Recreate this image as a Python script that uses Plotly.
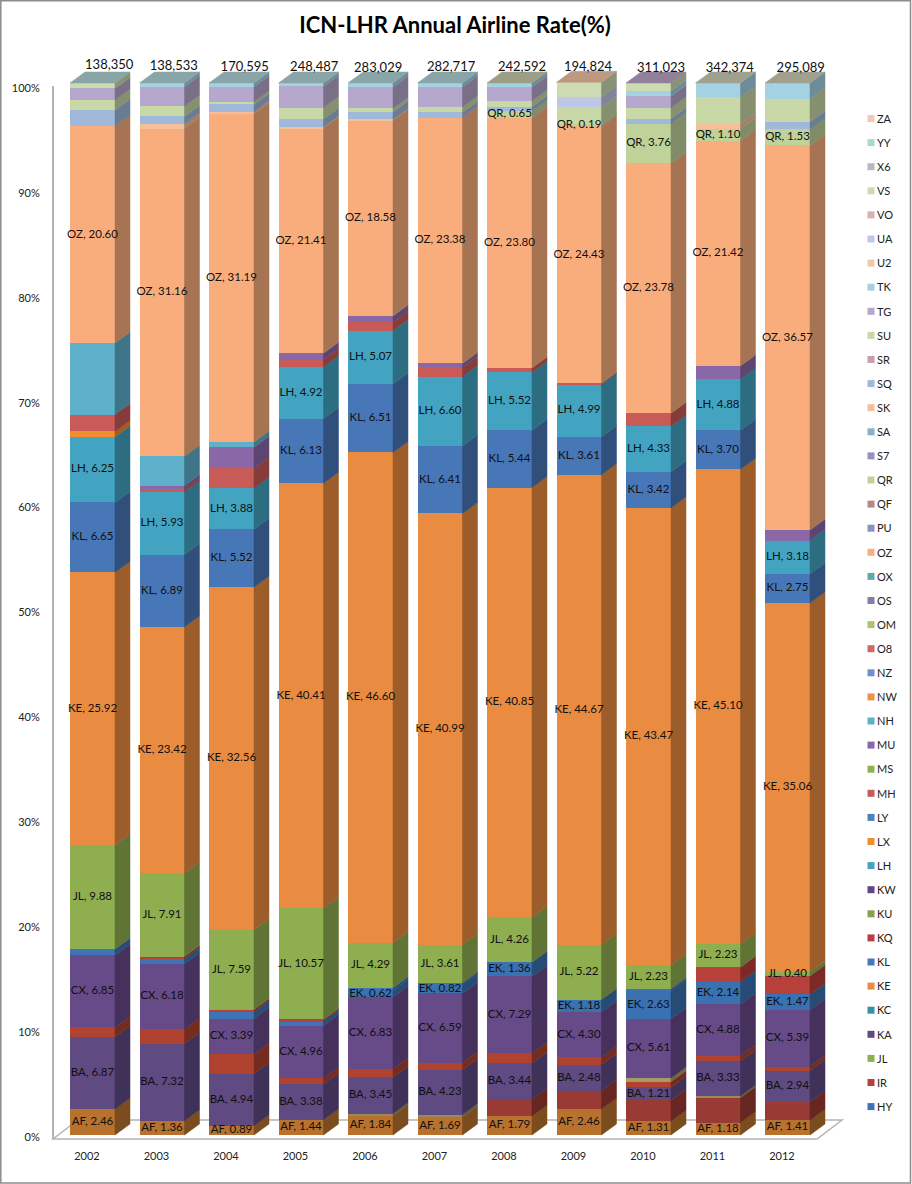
import plotly.graph_objects as go

YEARS = [2002, 2003, 2004, 2005, 2006, 2007, 2008, 2009, 2010, 2011, 2012]
TOTALS = ["138,350", "138,533", "170,595", "248,487", "283,029", "282,717",
          "242,592", "194,824", "311,023", "342,374", "295,089"]

AF = [2.46, 1.36, 0.89, 1.44, 1.84, 1.69, 1.79, 2.46, 1.31, 1.18, 1.41]
AZ = [0, 0, 0, 0, 0, 0, 1.6, 1.75, 2.0, 2.37, 1.75]
B2 = [0, 0, 0, 0, 0.2, 0.25, 0, 0, 0, 0.15, 0]
BA = [6.87, 7.32, 4.94, 3.38, 3.45, 4.23, 3.44, 2.48, 1.21, 3.33, 2.94]
BD = [0.9, 1.4, 1.85, 0.6, 0.8, 0.7, 0.95, 0.7, 0.55, 0.52, 0.4]
BR = [0, 0, 0, 0, 0, 0, 0, 0, 0.35, 0, 0]
CX = [6.85, 6.18, 3.39, 4.96, 6.83, 6.59, 7.29, 4.30, 5.61, 4.88, 5.39]
EK = [0, 0, 0, 0, 0.62, 0.82, 1.36, 1.18, 2.63, 2.14, 1.47]
HY = [0.6, 0.5, 0.65, 0.45, 0.25, 0.2, 0, 0, 0.25, 0, 0]
IR = [0, 0.2, 0.2, 0.15, 0, 0, 0, 0, 0, 1.38, 1.75]
JL = [9.88, 7.91, 7.59, 10.57, 4.29, 3.61, 4.26, 5.22, 2.23, 2.23, 0.40]
KE = [25.92, 23.42, 32.56, 40.41, 46.60, 40.99, 40.85, 44.67, 43.47, 45.10, 35.06]
KL = [6.65, 6.89, 5.52, 6.13, 6.51, 6.41, 5.44, 3.61, 3.42, 3.70, 2.75]
LH = [6.25, 5.93, 3.88, 4.92, 5.07, 6.60, 5.52, 4.99, 4.33, 4.88, 3.18]
LX = [0.5, 0, 0, 0, 0, 0, 0, 0, 0, 0, 0]
MH = [1.6, 0.3, 1.9, 0.7, 0.8, 0.9, 0.4, 0.1, 1.25, 0, 0]
MU = [0, 0.3, 2.0, 0.6, 0.6, 0.35, 0, 0, 0, 1.25, 1.0]
NH = [6.8, 2.8, 0.5, 0, 0, 0, 0, 0, 0, 0, 0]
OZ = [20.60, 31.16, 31.19, 21.41, 18.58, 23.38, 23.80, 24.43, 23.78, 21.42, 36.57]
QR = [0, 0, 0, 0, 0, 0, 0.65, 0.19, 3.76, 1.10, 1.53]
SK = [0, 0.45, 0.2, 0.1, 0.1, 0, 0, 0, 0, 0.5, 0]
SQ = [1.55, 0.7, 0.7, 0.75, 0.7, 0.5, 0.4, 0, 0.45, 0, 0.7]
SU = [0.95, 1.0, 0.25, 1.1, 0.35, 0.5, 0.55, 1.6, 1.05, 2.55, 2.2]
TG = [1.1, 1.8, 1.4, 2.0, 2.0, 1.9, 1.3, 0, 1.1, 0, 0]
TK = [0, 0.38, 0.39, 0.33, 0.41, 0.38, 0.4, 0, 0.5, 1.32, 1.5]
UA = [0, 0, 0, 0, 0, 0, 0, 1.0, 0, 0, 0]
VS = [0.52, 0, 0, 0, 0, 0, 0, 1.38, 0.75, 0, 0]

STACK = [("AF", AF), ("AZ", AZ), ("B2", B2), ("BA", BA), ("BD", BD), ("BR", BR), ("CX", CX),
         ("EK", EK), ("HY", HY), ("IR", IR), ("JL", JL), ("KE", KE), ("KL", KL), ("LH", LH),
         ("LX", LX), ("MH", MH), ("MU", MU), ("NH", NH), ("OZ", OZ), ("QR", QR), ("SK", SK),
         ("SQ", SQ), ("SU", SU), ("TG", TG), ("TK", TK), ("UA", UA), ("VS", VS)]
LABELLED = ["AF", "BA", "CX", "EK", "JL", "KE", "KL", "LH", "OZ", "QR"]

LEGEND_NAMES = ["ZA", "YY", "X6", "VS", "VO", "UA", "U2", "TK", "TG", "SU", "SR", "SQ", "SK", "SA",
                "S7", "QR", "QF", "PU", "OZ", "OX", "OS", "OM", "O8", "NZ", "NW", "NH", "MU", "MS",
                "MH", "LY", "LX", "LH", "KW", "KU", "KQ", "KL", "KE", "KC", "KA", "JL", "IR", "HY"]

COLORS = {
    "AF": "#B8722E", "AZ": "#9A3A34", "B2": "#9A8A5A", "BA": "#5F4A82", "BD": "#B0432F", "BR": "#A89A66",
    "CX": "#674A88", "EK": "#3A71B0", "HY": "#3F74B4", "IR": "#B8403A", "JL": "#8FAE50", "KA": "#604880",
    "KC": "#3890A8", "KE": "#E98B40", "KL": "#4877B8", "KQ": "#B84040", "KU": "#88A048", "KW": "#604888",
    "LH": "#43A4C1", "LX": "#F28C2C", "LY": "#4F81BD", "MH": "#C85A58", "MS": "#90B050", "MU": "#8A68A8",
    "NH": "#5FB0CB", "NW": "#F09048", "NZ": "#7090C8", "O8": "#D06860", "OM": "#B0C070", "OS": "#8080A8",
    "OX": "#60A8B0", "OZ": "#F9AD7D", "PU": "#9090C0", "QF": "#B88888", "QR": "#BFD29A", "S7": "#9890B8",
    "SA": "#88B0C8", "SK": "#F4C09A", "SQ": "#A0B9DB", "SR": "#C8A0A8", "SU": "#C8D8A6", "TG": "#B5A8CC",
    "TK": "#A5D2E3", "U2": "#F0C8A8", "UA": "#BEC8E4", "VO": "#D8B0B8", "VS": "#CDDBB2", "X6": "#B8B8C0",
    "YY": "#A8D8D0", "ZA": "#F4C8B8",
}
TOP_COLORS = ["#8AA5A8", "#8AA5A8", "#8AA5A8", "#8AA5A8", "#8AA5A8", "#8AA5A8",
              "#9C9E86", "#BF9880", "#90809A", "#A0A08E", "#A0A08E"]
TOTAL_OFFSETS = [0.24, 0.17, 0.19, 0.19, 0.11, 0.16, 0.18, 0.13, 0.18, 0.17, 0.19]
TOTAL_HEIGHTS = [101.65, 101.55, 101.45, 101.45, 101.4, 101.45, 101.45, 101.45, 101.35, 101.35, 101.35]

# page geometry (pixels)
W, H = 912, 1184
ML, MB = 53, 45
PX0, PXSTEP = 92.5, 69.5
PY0, PYPCT = 1135.0, 10.52
BAR_W = 45 / PXSTEP
DEPTH_X, DEPTH_Y = 15 / PXSTEP, 11 / PYPCT
FONT = "Lato"


def fx(px):
    return (px - ML) / (W - ML)


def fy(py):
    return (H - MB - py) / (H - MB)


def darken(c, f=0.67):
    r, g, b = int(c[1:3], 16), int(c[3:5], 16), int(c[5:7], 16)
    return f"rgb({int(r*f)},{int(g*f)},{int(b*f)})"


xs = list(range(len(YEARS)))
fig = go.Figure()

# front faces
for name, vals in STACK:
    fig.add_trace(go.Bar(x=xs, y=vals, name=name, width=BAR_W, marker=dict(color=COLORS[name], line=dict(width=0)),
                         showlegend=False, hoverinfo="skip"))

# side faces, label positions
base = [0.0] * len(YEARS)
lx, ly, lt = [], [], []
for name, vals in STACK:
    px_, py_ = [], []
    for i, v in enumerate(vals):
        if v > 0:
            right = i + BAR_W / 2
            y0, y1 = base[i], base[i] + v
            px_ += [right, right + DEPTH_X, right + DEPTH_X, right, right, None]
            py_ += [y0, y0 + DEPTH_Y, y1 + DEPTH_Y, y1, y0, None]
            if name in LABELLED:
                lx.append(i)
                ly.append((y0 + y1) / 2)
                lt.append(f"{name}, {v:.2f}")
            base[i] = y1
    if px_:
        c = darken(COLORS[name])
        fig.add_trace(go.Scatter(x=px_, y=py_, mode="lines", fill="toself", fillcolor=c,
                                 line=dict(color=c, width=0.5), showlegend=False, hoverinfo="skip"))

# top faces
for i, c in enumerate(TOP_COLORS):
    left, right = i - BAR_W / 2, i + BAR_W / 2
    t = base[i]
    fig.add_trace(go.Scatter(x=[left, right, right + DEPTH_X, left + DEPTH_X, left],
                             y=[t, t, t + DEPTH_Y, t + DEPTH_Y, t], mode="lines", fill="toself",
                             fillcolor=c, line=dict(color=c, width=0.5), showlegend=False, hoverinfo="skip"))

# data labels
fig.add_trace(go.Scatter(x=lx, y=ly, text=lt, mode="text", textposition="middle center",
                         textfont=dict(family=FONT, size=11.5, color="#101010"),
                         showlegend=False, hoverinfo="skip"))
# totals
fig.add_trace(go.Scatter(x=[i + o for i, o in zip(xs, TOTAL_OFFSETS)], y=TOTAL_HEIGHTS, text=TOTALS, mode="text",
                         textposition="middle center", textfont=dict(family=FONT, size=13, color="#101010"),
                         showlegend=False, hoverinfo="skip"))

# legend entries
for name in LEGEND_NAMES:
    fig.add_trace(go.Scatter(x=[None], y=[None], mode="markers", name=name, legendgroup=name,
                             marker=dict(symbol="square", size=7, color=COLORS[name]),
                             showlegend=True, hoverinfo="skip"))

shapes = [
    dict(type="rect", xref="paper", yref="paper", x0=fx(0.8), x1=fx(910.5), y0=fy(1183), y1=fy(0.8),
         line=dict(color="#8C8C8C", width=1.5), layer="below"),
    dict(type="line", xref="paper", yref="paper", x0=fx(53), x1=fx(53), y0=fy(86), y1=fy(1139),
         line=dict(color="#B4B4B4", width=2), layer="below"),
    dict(type="path", xref="paper", yref="paper",
         path=f"M {fx(53)} {fy(1139)} L {fx(817)} {fy(1139)} L {fx(842)} {fy(1120)} L {fx(78)} {fy(1120)} Z",
         line=dict(color="#B4B4B4", width=1.5), layer="below"),
]

fig.update_layout(
    width=W, height=H, autosize=False,
    margin=dict(l=ML, r=0, t=0, b=MB, pad=0),
    paper_bgcolor="white", plot_bgcolor="rgba(0,0,0,0)",
    barmode="stack", bargap=0,
    font=dict(family=FONT, size=11, color="#222222"),
    title=dict(text="<b>ICN-LHR Annual Airline Rate(%)</b>", x=455 / W, xanchor="center", xref="container",
               y=1 - 25 / H, yanchor="middle", yref="container",
               font=dict(family=FONT, size=22, color="#000000")),
    xaxis=dict(range=[(ML - PX0) / PXSTEP, (W - PX0) / PXSTEP],
               tickvals=[i - 0.08 for i in xs], ticktext=[str(y) for y in YEARS],
               showgrid=False, zeroline=False, showline=False, ticks="outside", ticklen=7,
               tickcolor="rgba(0,0,0,0)", tickfont=dict(family=FONT, size=11, color="#222222")),
    yaxis=dict(range=[(PY0 - (H - MB)) / PYPCT, PY0 / PYPCT],
               tickvals=[-0.19 + 9.971 * k for k in range(11)], ticktext=[f"{10 * k}%" for k in range(11)],
               showgrid=False, zeroline=False, showline=False, ticks="outside", ticklen=10,
               tickcolor="rgba(0,0,0,0)", tickfont=dict(family=FONT, size=11, color="#222222")),
    legend=dict(x=fx(837), xanchor="left", y=fy(104), yanchor="top", traceorder="grouped",
                tracegroupgap=5.1, bgcolor="rgba(0,0,0,0)", font=dict(family=FONT, size=11, color="#222222"),
                itemclick=False, itemdoubleclick=False),
    shapes=shapes,
)

# legend swatches sit closer to their text than plotly's fixed item width allows
POST = """
document.body.style.margin='0';document.body.style.overflow='hidden';
function nudge(){document.querySelectorAll('.legendsymbols').forEach(function(g){g.setAttribute('transform','translate(14,0)');});}
nudge();setTimeout(nudge,50);setTimeout(nudge,300);
"""
fig.write_html("out.html", post_script=POST, config={"displayModeBar": False})
